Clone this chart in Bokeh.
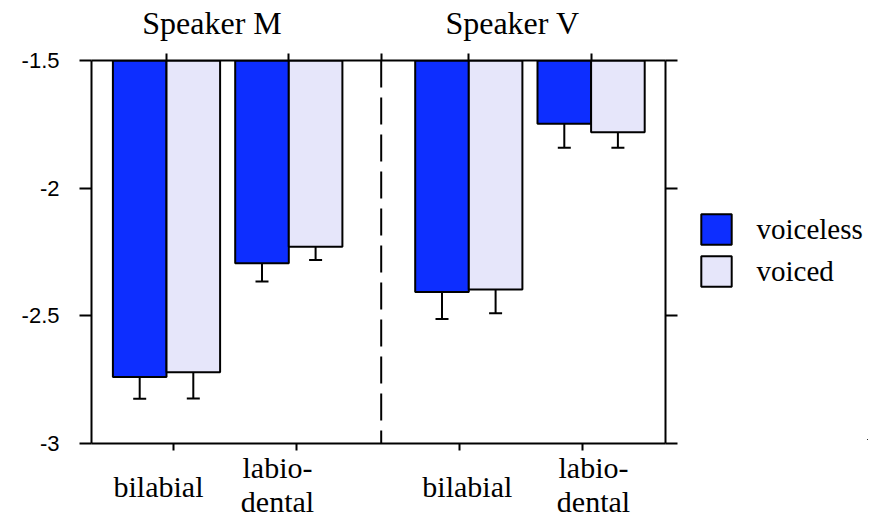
from bokeh.plotting import figure
from bokeh.layouts import row
from bokeh.models import (Range1d, LinearAxis, FixedTicker, Legend,
                          LegendItem, ColumnDataSource)
from bokeh.embed import file_html
from bokeh.resources import INLINE

# ---------------- data ----------------
speakers = ["Speaker M", "Speaker V"]
places = ["bilabial", "labiodental"]
place_label_top = ["", "labio-"]
place_label_mid = ["bilabial", ""]
place_label_bot = ["", "dental"]
series = ["voiceless", "voiced"]
# order: M-bilabial, M-labiodental, V-bilabial, V-labiodental
voiceless_mean = [-2.740, -2.294, -2.407, -1.748]
voiceless_err = [0.085, 0.072, 0.105, 0.094]
voiced_mean = [-2.721, -2.229, -2.397, -1.781]
voiced_err = [0.103, 0.052, 0.093, 0.061]
y_ticks = [-3, -2.5, -2, -1.5]
y_tick_labels = ["-3", "-2.5", "-2", "-1.5"]

# ---------------- layout / style ----------------
FRAME_L, FRAME_T = 91, 60
FRAME_W, FRAME_H = 574, 383
BORDER_R, BORDER_B = 30, 73
TOTAL_W = 868
TOTAL_H = FRAME_T + FRAME_H + BORDER_B
LEG_W = TOTAL_W - (FRAME_L + FRAME_W + BORDER_R)
Y_MIN, Y_MAX = -3.0, -1.5
GROUP_START = [75.0, 377.3]
CAT_STEP = 122.3
BAR_W = 53.6
CAP_W = 13
DIVIDER_X = 289.7
BOTTOM_TICKS = [82.3, 204.7, 368.2, 491.3]
LABEL_X = [67.0, 186.0, 375.8, 502.0]
TITLE_X = [120.5, 421.0]
LEG_LOC = (696.5 - (FRAME_L + FRAME_W + BORDER_R), TOTAL_H - 367)
BLUE = "#0D2EFF"
LAV = "#E6E6FA"
SERIF = "Liberation Serif"
SANS = "Liberation Sans"

centers = []
for g in range(len(speakers)):
    for c in range(len(places)):
        centers.append(GROUP_START[g] + c * CAT_STEP)

p = figure(frame_width=FRAME_W, frame_height=FRAME_H,
           output_backend="svg", toolbar_location=None,
           x_range=Range1d(0, FRAME_W), y_range=Range1d(Y_MIN, Y_MAX),
           x_axis_type=None, y_axis_type=None,
           min_border_left=FRAME_L, min_border_right=BORDER_R,
           min_border_top=FRAME_T, min_border_bottom=BORDER_B)
p.outline_line_color = None
p.background_fill_color = "white"
p.border_fill_color = "white"

# legend panel (separate figure to the right)
q = figure(width=LEG_W, height=TOTAL_H, output_backend="svg", toolbar_location=None,
           x_range=Range1d(0, 1), y_range=Range1d(0, 1),
           x_axis_type=None, y_axis_type=None, min_border=0)
q.outline_line_color = None
q.background_fill_color = "white"
q.border_fill_color = "white"

leg_renderers = []
for s, (means, errs, color) in enumerate([(voiceless_mean, voiceless_err, BLUE),
                                          (voiced_mean, voiced_err, LAV)]):
    dx = (-0.5 if s == 0 else 0.5) * BAR_W
    xs = [c + dx for c in centers]
    src = ColumnDataSource(dict(
        x=xs, top=[Y_MAX] * len(xs), bottom=means,
        low=[m - e for m, e in zip(means, errs)],
        cl=[x - CAP_W / 2 for x in xs], cr=[x + CAP_W / 2 for x in xs]))
    p.segment(x0="x", y0="bottom", x1="x", y1="low", source=src,
              line_color="black", line_width=2)
    p.segment(x0="cl", y0="low", x1="cr", y1="low", source=src,
              line_color="black", line_width=2)
    p.vbar(x="x", top="top", bottom="bottom", width=BAR_W, source=src,
           fill_color=color, line_color="black", line_width=2)
    # same series in the legend panel (outside its view; only feeds the legend)
    leg_renderers.append(q.vbar(x="x", top="top", bottom="bottom", width=BAR_W,
                                source=src, fill_color=color,
                                line_color="black", line_width=2))

# dashed divider
p.segment(x0=[DIVIDER_X], y0=[Y_MAX], x1=[DIVIDER_X], y1=[Y_MIN],
          line_color="black", line_width=2, line_dash="27 10")


def tick_axis(ticks, tick_out):
    ax = LinearAxis(ticker=FixedTicker(ticks=ticks),
                    major_label_overrides={float(t): "" for t in ticks})
    ax.axis_line_color = "black"
    ax.axis_line_width = 2
    ax.major_tick_line_color = "black"
    ax.major_tick_line_width = 2
    ax.major_tick_out = tick_out
    ax.major_tick_in = 0
    ax.minor_tick_line_color = None
    ax.major_label_text_font_size = "0px"
    ax.major_label_standoff = 0
    return ax


def text_axis(ticks, labels, standoff, size="30px"):
    ax = LinearAxis(ticker=FixedTicker(ticks=ticks),
                    major_label_overrides={float(t): l for t, l in zip(ticks, labels)})
    ax.axis_line_color = None
    ax.major_tick_line_color = None
    ax.major_tick_out = 0
    ax.major_tick_in = 0
    ax.minor_tick_line_color = None
    ax.major_label_text_font = SERIF
    ax.major_label_text_font_size = size
    ax.major_label_text_color = "black"
    ax.major_label_standoff = standoff
    return ax


left = tick_axis(y_ticks, 12)
left.major_label_overrides = {float(t): l for t, l in zip(y_ticks, y_tick_labels)}
left.major_label_text_font = SANS
left.major_label_text_font_size = "22px"
left.major_label_text_color = "black"
left.major_label_standoff = 20
p.add_layout(left, "left")

p.add_layout(tick_axis(y_ticks, 12), "right")
p.add_layout(tick_axis(sorted(centers + [DIVIDER_X]), 7), "above")
p.add_layout(tick_axis(BOTTOM_TICKS, 7), "below")

# speaker titles (top)
p.add_layout(text_axis(TITLE_X, speakers, 13, "32px"), "above")


# place labels (bottom), three rows
def pick(row_labels):
    xs, ls = [], []
    for i, lx in enumerate(LABEL_X):
        t = row_labels[i % 2]
        if t:
            xs.append(lx)
            ls.append(t)
    return xs, ls


xs, ls = pick(place_label_top)
p.add_layout(text_axis(xs, ls, 0), "below")
xs, ls = pick(place_label_mid)
p.add_layout(text_axis(xs, ls, -17), "below")
xs, ls = pick(place_label_bot)
p.add_layout(text_axis(xs, ls, -21), "below")

legend = Legend(items=[LegendItem(label=s, renderers=[r]) for s, r in zip(series, leg_renderers)],
                location=LEG_LOC, padding=0, margin=0, spacing=4,
                glyph_width=38, glyph_height=38, label_height=38,
                label_standoff=22, label_text_font=SERIF,
                label_text_font_size="29px", label_text_baseline="middle",
                label_text_color="black",
                border_line_color=None, background_fill_alpha=0)
q.add_layout(legend, "center")

layout = row(p, q)
open("out.html", "w").write(file_html(layout, INLINE))
